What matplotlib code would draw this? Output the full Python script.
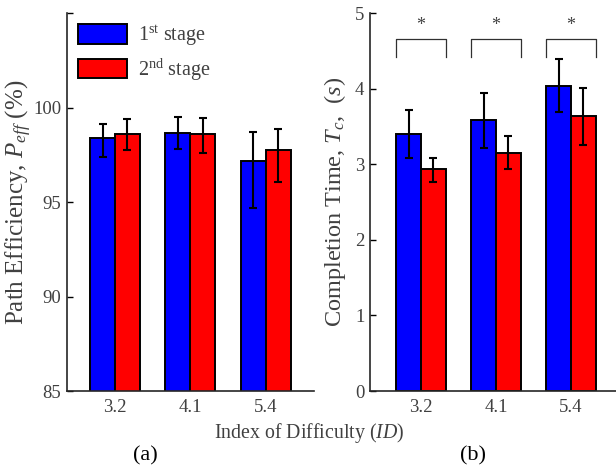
import matplotlib
matplotlib.use('Agg')
import matplotlib.pyplot as plt
import numpy as np

plt.rcParams['font.family'] = ['Liberation Serif', 'DejaVu Serif']
plt.rcParams['mathtext.fontset'] = 'custom'
plt.rcParams['mathtext.rm'] = 'Liberation Serif'
plt.rcParams['mathtext.it'] = 'Liberation Serif:italic'

# 数据
ids = ['3.2', '4.1', '5.4']

# (a) 路径效率 Peff (%)
peff_1 = [98.37, 98.65, 97.19]
peff_1_lo = [0.96, 0.86, 2.52]
peff_1_hi = [0.77, 0.88, 1.53]
peff_2 = [98.60, 98.58, 97.77]
peff_2_lo = [0.86, 0.98, 1.70]
peff_2_hi = [0.79, 0.89, 1.09]

# (b) 完成时间 Tc (s)
tc_1 = [3.40, 3.58, 4.04]
tc_1_err = [0.32, 0.36, 0.35]
tc_2 = [2.94, 3.15, 3.64]
tc_2_lo = [0.17, 0.21, 0.38]
tc_2_hi = [0.15, 0.22, 0.37]

# 显著性标记
sig = ['*', '*', '*']

blue = '#0000ff'
red = '#ff0000'
txt = '#404040'
w = 0.33

fig = plt.figure(figsize=(6.16, 4.70), dpi=100)
ax1 = fig.add_axes([0.1083, 0.168, 0.4013, 0.804])
ax2 = fig.add_axes([0.6006, 0.168, 0.3994, 0.804])

x = np.arange(1, len(ids) + 1)
bar_kw = dict(width=w, edgecolor='black', linewidth=1.4, zorder=2)
err_kw = dict(ecolor='black', elinewidth=1.5, capsize=2.6, capthick=1.5)

ax1.bar(x - w / 2, peff_1, color=blue, label=r'1$^{\mathrm{st}}$ stage',
        yerr=[peff_1_lo, peff_1_hi], error_kw=err_kw, **bar_kw)
ax1.bar(x + w / 2, peff_2, color=red, label=r'2$^{\mathrm{nd}}$ stage',
        yerr=[peff_2_lo, peff_2_hi], error_kw=err_kw, **bar_kw)
ax1.set_ylim(85, 105)
ax1.set_xlim(0.36, 3.64)
ax1.set_yticks([85, 90, 95, 100, 105])
ax1.set_yticklabels(['85', '90', '95', '100', ''])
ax1.set_ylabel(r'Path Efficiency, $P_{eff}$ (%)', fontsize=18, color=txt, labelpad=-1)

ax2.bar(x - w / 2, tc_1, color=blue, yerr=tc_1_err, error_kw=err_kw, **bar_kw)
ax2.bar(x + w / 2, tc_2, color=red, yerr=[tc_2_lo, tc_2_hi], error_kw=err_kw, **bar_kw)
ax2.set_ylim(0, 5)
ax2.set_xlim(0.32, 3.60)
ax2.set_yticks([0, 1, 2, 3, 4, 5])
ax2.set_ylabel(r'Completion Time, $T_c$,  ($s$)', fontsize=17.5, color=txt, labelpad=5)

# 括号和星号
for xi, s in zip(x, sig):
    ax2.plot([xi - w, xi - w, xi + w, xi + w], [4.42, 4.66, 4.66, 4.42],
             color='#303030', linewidth=0.9)
    ax2.text(xi, 4.84, s, ha='center', va='center', fontsize=13, color=txt)

for ax in (ax1, ax2):
    ax.set_xticks(x)
    ax.set_xticklabels(ids)
    ax.spines['top'].set_visible(False)
    ax.spines['right'].set_visible(False)
    for sp in ('left', 'bottom'):
        ax.spines[sp].set_linewidth(1.2)
        ax.spines[sp].set_color('#262626')
    ax.tick_params(axis='y', direction='in', length=4, width=1.0,
                   labelsize=13.5, labelcolor=txt, pad=4)
    ax.tick_params(axis='x', length=0, labelsize=13.5, labelcolor=txt, pad=6)

ax1.legend(loc='upper left', bbox_to_anchor=(-0.01, 1.01), frameon=False,
           fontsize=14.5, handlelength=2.4, handleheight=1.1, handletextpad=0.55,
           labelspacing=0.42, borderpad=0.2, labelcolor=txt)

fig.text(0.502, 1 - 433 / 470, r'Index of Difficulty ($ID$)', ha='center', va='center',
         fontsize=14.3, color=txt)
fig.text(145 / 616, 1 - 456 / 470, '(a)', ha='center', va='center', fontsize=16, color='black')
fig.text(473 / 616, 1 - 456 / 470, '(b)', ha='center', va='center', fontsize=16, color='black')

fig.savefig('out.png', dpi=100)
